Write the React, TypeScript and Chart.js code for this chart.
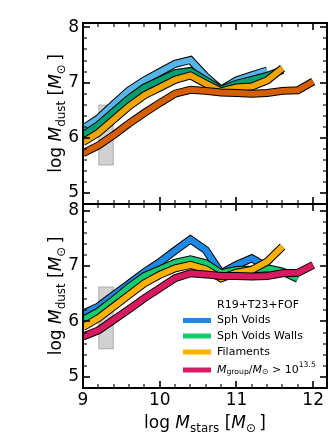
import React, { useEffect, useRef } from 'react';
import { Chart, registerables } from 'chart.js';

Chart.register(...registerables);

// ---------------- data ----------------
const massBins = [9.0, 9.2, 9.4, 9.6, 9.8, 10.0, 10.2, 10.4, 10.6, 10.8, 11.0, 11.2, 11.4, 11.6, 11.8, 12.0];

// top panel
const topSphVoids = [6.17, 6.35, 6.61, 6.86, 7.04, 7.19, 7.34, 7.41, 7.11, 6.87, 7.04, 7.13, 7.22];
const topSphVoidsWalls = [6.05, 6.23, 6.47, 6.71, 6.91, 7.04, 7.17, 7.21, 7.04, 6.87, 6.98, 7.05, 7.12, 7.23];
const topFilaments = [5.92, 6.09, 6.33, 6.57, 6.77, 6.91, 7.05, 7.13, 6.98, 6.84, 6.91, 6.93, 7.04, 7.26];
const topGroups = [5.72, 5.86, 6.05, 6.26, 6.45, 6.63, 6.80, 6.87, 6.85, 6.82, 6.81, 6.80, 6.81, 6.85, 6.86, 7.02];

// bottom panel
const botSphVoids = [6.14, 6.27, 6.48, 6.68, 6.89, 7.07, 7.28, 7.48, 7.29, 6.87, 7.02, 7.14, 6.98];
const botSphVoidsWalls = [6.03, 6.18, 6.39, 6.62, 6.82, 6.94, 7.06, 7.12, 7.05, 6.87, 6.93, 6.94, 6.96, 6.90, 6.77];
const botFilaments = [5.90, 6.06, 6.27, 6.48, 6.69, 6.84, 6.96, 7.02, 6.94, 6.78, 6.88, 6.93, 7.08, 7.35];
const botGroups = [5.73, 5.84, 6.03, 6.22, 6.42, 6.60, 6.78, 6.87, 6.85, 6.82, 6.82, 6.81, 6.82, 6.87, 6.88, 7.02];

// shaded boxes [xmin, xmax, ymin, ymax]
const topBox = [9.2, 9.4, 5.5, 6.6];
const botBox = [9.2, 9.4, 5.5, 6.63];

const xMajorTicks = [9, 10, 11, 12];
const yMajorTicks = [5, 6, 7, 8];

const legendTitle = 'R19+T23+FOF';
const legendLabels = ['Sph Voids', 'Sph Voids Walls', 'Filaments'];

const topColors = ['#56B4E9', '#009E73', '#F0A500', '#D55E00'];
const botColors = ['#1E88E5', '#14CC6E', '#FFB000', '#D81B60'];

// ---------------- helpers ----------------
const FAMILY = '"DejaVu Sans", "Noto Sans", sans-serif';

type Seg = { t: string; s?: 'n' | 'i' | 'sub' | 'sup' };

function segFont(seg: Seg, size: number) {
  const sz = seg.s === 'sub' || seg.s === 'sup' ? size * 0.7 : size;
  return `${seg.s === 'i' ? 'italic ' : ''}${sz}px ${FAMILY}`;
}

function richWidth(ctx: CanvasRenderingContext2D, segs: Seg[], size: number) {
  let w = 0;
  for (const sg of segs) {
    ctx.font = segFont(sg, size);
    w += ctx.measureText(sg.t).width;
  }
  return w;
}

function drawRich(
  ctx: CanvasRenderingContext2D,
  segs: Seg[],
  x: number,
  y: number,
  size: number,
  align: 'left' | 'center',
  baseline: CanvasTextBaseline = 'alphabetic'
) {
  const w = richWidth(ctx, segs, size);
  let cx = align === 'center' ? x - w / 2 : x;
  ctx.textAlign = 'left';
  ctx.textBaseline = baseline;
  for (const sg of segs) {
    ctx.font = segFont(sg, size);
    let dy = 0;
    if (sg.s === 'sub') dy = size * 0.22;
    if (sg.s === 'sup') dy = -size * 0.42;
    ctx.fillText(sg.t, cx, y + dy);
    cx += ctx.measureText(sg.t).width;
  }
}

const yTitle: Seg[] = [
  { t: 'log ' },
  { t: 'M', s: 'i' },
  { t: 'dust', s: 'sub' },
  { t: ' [' },
  { t: 'M', s: 'i' },
  { t: '\u2299', s: 'sub' },
  { t: '\u2009]' },
];
const xTitle: Seg[] = [
  { t: 'log ' },
  { t: 'M', s: 'i' },
  { t: 'stars', s: 'sub' },
  { t: ' [' },
  { t: 'M', s: 'i' },
  { t: '\u2299', s: 'sub' },
  { t: '\u2009]' },
];
const groupLabel: Seg[] = [
  { t: 'M', s: 'i' },
  { t: 'group', s: 'sub' },
  { t: '/' },
  { t: 'M', s: 'i' },
  { t: '\u2299', s: 'sub' },
  { t: ' > 10' },
  { t: '13.5', s: 'sup' },
];

function buildDatasets(series: number[][], colors: string[], axis: string, orderStart: number) {
  const out: any[] = [];
  let order = orderStart;
  series.forEach((vals, i) => {
    const pts = vals.map((v, k) => ({ x: massBins[k], y: v }));
    const common = {
      data: pts,
      yAxisID: axis,
      pointRadius: 0,
      pointHoverRadius: 0,
      tension: 0,
      fill: false,
      borderJoinStyle: 'miter',
      borderCapStyle: 'butt',
      clip: 0,
    };
    out.push({ ...common, label: `o${axis}${i}`, borderColor: '#000000', borderWidth: 8, order: order-- });
    out.push({ ...common, label: `c${axis}${i}`, borderColor: colors[i], borderWidth: 6, order: order-- });
  });
  return out;
}

const decorPlugin = {
  id: 'decor',
  beforeDatasetsDraw(chart: any) {
    const ctx: CanvasRenderingContext2D = chart.ctx;
    const xs = chart.scales.x;
    const boxes: [string, number[]][] = [
      ['yTop', topBox],
      ['yBot', botBox],
    ];
    ctx.save();
    for (const [id, b] of boxes) {
      const ys = chart.scales[id];
      const x0 = xs.getPixelForValue(b[0]);
      const x1 = xs.getPixelForValue(b[1]);
      const y0 = ys.getPixelForValue(b[3]);
      const y1 = ys.getPixelForValue(b[2]);
      ctx.fillStyle = 'rgba(128,128,128,0.36)';
      ctx.fillRect(x0, y0, x1 - x0, y1 - y0);
      ctx.strokeStyle = 'rgba(128,128,128,0.45)';
      ctx.lineWidth = 1;
      ctx.strokeRect(x0 + 0.5, y0 + 0.5, x1 - x0 - 1, y1 - y0 - 1);
    }
    ctx.restore();
  },
  afterDraw(chart: any) {
    const ctx: CanvasRenderingContext2D = chart.ctx;
    const xs = chart.scales.x;
    const L = chart.chartArea.left;
    const R = chart.chartArea.right;
    ctx.save();
    ctx.strokeStyle = '#000';
    ctx.fillStyle = '#000';
    for (const id of ['yTop', 'yBot']) {
      const ys = chart.scales[id];
      const T = ys.top;
      const B = ys.bottom;
      // ticks
      const tick = (x0: number, y0: number, x1: number, y1: number, w: number) => {
        ctx.lineWidth = w;
        ctx.beginPath();
        ctx.moveTo(x0, y0);
        ctx.lineTo(x1, y1);
        ctx.stroke();
      };
      for (let k = 0; k <= 20; k++) {
        const v = 9 + k * 0.2;
        if (v >= xs.max - 1e-6) break;
        const major = Math.abs(v - Math.round(v)) < 1e-6;
        const px = Math.round(xs.getPixelForValue(v));
        const len = major ? 7 : 4;
        const w = major ? 1.6 : 1.1;
        if (v > xs.min + 1e-6) {
          tick(px, T, px, T + len, w);
          tick(px, B, px, B - len, w);
        }
      }
      for (let k = 0; k <= 20; k++) {
        const v = 4.8 + k * 0.2;
        if (v >= ys.max - 1e-6) break;
        if (v <= ys.min + 1e-6) continue;
        const major = Math.abs(v - Math.round(v)) < 1e-6;
        const py = Math.round(ys.getPixelForValue(v));
        const len = major ? 7 : 4;
        const w = major ? 1.6 : 1.1;
        tick(L, py, L + len, py, w);
        tick(R, py, R - len, py, w);
      }
      // frame
      ctx.lineWidth = 2;
      ctx.strokeRect(L, T, R - L, B - T);
      // y title
      ctx.save();
      ctx.translate(61, (T + B) / 2);
      ctx.rotate(-Math.PI / 2);
      drawRich(ctx, yTitle, 0, 0, 17, 'center');
      ctx.restore();
    }
    // x title
    drawRich(ctx, xTitle, (L + R) / 2, 428, 17, 'center');

    // legend in bottom panel
    const yb = chart.scales.yBot;
    const lx = R - 144;
    const tx = R - 110;
    const base = yb.bottom;
    ctx.textBaseline = 'middle';
    ctx.font = `11px ${FAMILY}`;
    ctx.fillText(legendTitle, tx, base - 83);
    const rows = [base - 67.5, base - 52, base - 36, base - 18];
    const labels: Seg[][] = [
      [{ t: legendLabels[0] }],
      [{ t: legendLabels[1] }],
      [{ t: legendLabels[2] }],
      groupLabel,
    ];
    rows.forEach((ry, i) => {
      ctx.strokeStyle = botColors[i];
      ctx.lineWidth = 5;
      ctx.beginPath();
      ctx.moveTo(lx, ry);
      ctx.lineTo(lx + 28, ry);
      ctx.stroke();
      ctx.fillStyle = '#000';
      drawRich(ctx, labels[i], tx, ry, 11, 'left', 'middle');
    });
    ctx.restore();
  },
};

export default function App() {
  const ref = useRef<HTMLCanvasElement | null>(null);
  useEffect(() => {
    if (!ref.current) return;
    const datasets = [
      ...buildDatasets([topSphVoids, topSphVoidsWalls, topFilaments, topGroups], topColors, 'yTop', 100),
      ...buildDatasets([botSphVoids, botSphVoidsWalls, botFilaments, botGroups], botColors, 'yBot', 50),
    ];
    const yCommon = (weight: number, max: number) => ({
      type: 'linear',
      position: 'left',
      stack: 'panels',
      stackWeight: weight,
      min: 4.8,
      max,
      grid: { display: false, drawTicks: false },
      border: { display: false },
      ticks: {
        font: { family: FAMILY, size: 17 },
        color: '#000',
        padding: 4,
        autoSkip: false,
      },
      afterBuildTicks: (a: any) => {
        a.ticks = yMajorTicks.map((v) => ({ value: v }));
      },
      afterFit: (s: any) => {
        s.width = 83;
      },
    });
    const chart = new Chart(ref.current, {
      type: 'line',
      data: { datasets },
      options: {
        animation: false,
        responsive: false,
        maintainAspectRatio: false,
        devicePixelRatio: 1,
        layout: { padding: { top: 23, right: 5, left: 0, bottom: 0 } },
        plugins: { legend: { display: false }, tooltip: { enabled: false } },
        scales: {
          x: {
            type: 'linear',
            min: 9,
            max: 12.18,
            grid: { display: false, drawTicks: false },
            border: { display: false },
            ticks: {
              font: { family: FAMILY, size: 17 },
              color: '#000',
              padding: 2,
              maxRotation: 0,
              autoSkip: false,
            },
            afterBuildTicks: (a: any) => {
              a.ticks = xMajorTicks.map((v) => ({ value: v }));
            },
            afterFit: (s: any) => {
              s.height = 44;
            },
          },
          yBot: yCommon(184, 8.12) as any,
          yTop: yCommon(181, 8.08) as any,
        },
      } as any,
      plugins: [decorPlugin],
    });
    return () => chart.destroy();
  }, []);
  return (
    <div style={{ position: 'fixed', left: 0, top: 0, width: 332, height: 432, background: '#fff' }}>
      <canvas ref={ref} width={332} height={432} style={{ display: 'block' }} />
    </div>
  );
}
